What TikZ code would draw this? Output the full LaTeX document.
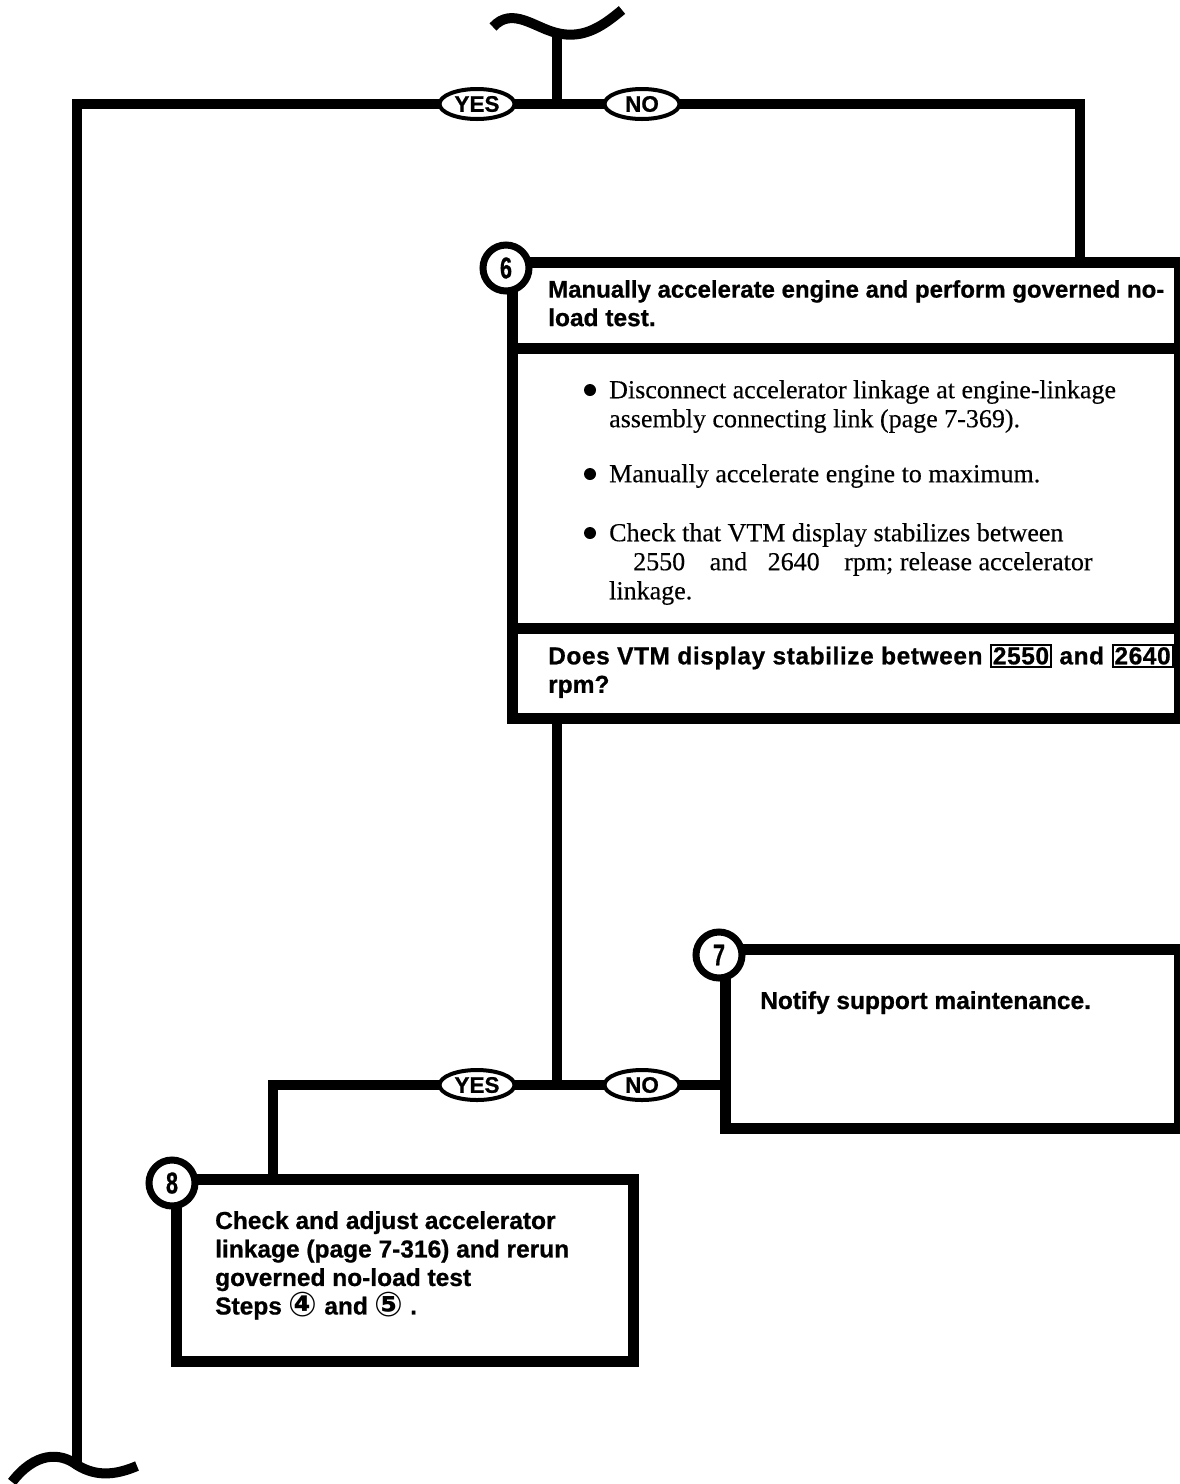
\documentclass[tikz,border=0pt]{standalone}
\usepackage{fontspec}
\setmainfont[FakeBold=0.3]{Liberation Serif}
\newfontfamily\headfont[BoldFeatures={FakeBold=0.8}]{Liberation Sans}
\newfontfamily\circfont{DejaVu Sans}
\usetikzlibrary{shapes.geometric}

\newcommand{\valbox}[1]{{\setlength{\fboxsep}{1pt}\setlength{\fboxrule}{2pt}\fbox{#1}}}
\newcommand{\stepref}[1]{\raisebox{-2pt}{\circfont\fontsize{34}{28.5}\selectfont #1}}

\tikzset{
  flow/.style={line width=10pt},
  stepbox/.style={draw, rectangle, line width=11pt, inner sep=0pt, outer sep=0pt},
  stepnum/.style={draw, circle, line width=7pt, fill=white, minimum size=46pt, inner sep=0pt,
    font=\headfont\bfseries\fontsize{30}{30}\selectfont},
  answer/.style={draw, ellipse, line width=4pt, fill=white, minimum width=75pt, minimum height=30pt,
    inner sep=0pt, outer sep=0pt, font=\headfont\bfseries\fontsize{22.5}{22.5}\selectfont},
  boldtext/.style={anchor=north west, inner sep=0pt, align=left,
    font=\headfont\bfseries\fontsize{24.5}{28.5}\selectfont},
  bodytext/.style={anchor=north west, inner sep=0pt, align=left,
    font=\fontsize{26}{29}\selectfont},
  dot/.style={circle, fill=black, minimum size=12pt, inner sep=0pt},
}

\begin{document}
\begin{tikzpicture}[x=1pt, y=-1pt]
  \useasboundingbox (0,0) rectangle (1179,1484);

  % Break at the top
  \coordinate (brkT) at (557,33);
  \draw[flow] (493,27) .. controls (512,6) and (535,28) .. (brkT) .. controls (585,40) and (605,24) .. (622,10);

  % First question: YES / NO
  \node[answer] (yes1) at (477,104) {YES};
  \node[answer] (no1) at (642,104) {NO};
  \coordinate (junT) at (557,104);
  \coordinate (lcorner) at (77,104);
  \coordinate (rcorner) at (1080,104);
  \coordinate (brkB) at (77,1465);
  \draw[flow] (brkT) -- (junT);
  \draw[flow] (yes1.east) -- (no1.west);
  \draw[flow] (yes1.west) -- (lcorner) -- (brkB);

  % Step 6
  \node[stepbox, minimum width=667pt, minimum height=86pt] (head6) at (845.5,305) {};
  \node[stepbox, minimum width=667pt, minimum height=280pt, anchor=north] (body6) at (head6.south) {};
  \node[stepbox, minimum width=667pt, minimum height=90pt, anchor=north] (ask6) at (body6.south) {};
  \draw[flow] (no1.east) -- (rcorner) -- (rcorner |- head6.north);
  \node[stepnum] (num6) at (506,268) {\scalebox{0.72}[1]{6}};

  \node[boldtext] (txt6) at (548,280) {\fontsize{24}{28.5}\selectfont Manually accelerate engine and perform governed no-\\load test.};
  \node[dot] (dot1) at (590,390) {};
  \node[bodytext] (item1) at (609,380) {Disconnect accelerator linkage at engine-linkage\\assembly connecting link (page 7-369).};
  \node[dot] (dot2) at (590,474) {};
  \node[bodytext] (item2) at (609,464) {Manually accelerate engine to maximum.};
  \node[dot] (dot3) at (590,533) {};
  \node[bodytext] (item3) at (609,523) {Check that VTM display stabilizes between\\
    \hspace*{24pt}2550\hspace{18pt} and\hspace{14pt} 2640\hspace{18pt} rpm; release accelerator\\linkage.};
  \node[boldtext] (txtask) at (548,644) {\addfontfeatures{LetterSpace=2.3}Does VTM display stabilize between \valbox{2550} and \valbox{2640}\\rpm?};

  % Second question: YES / NO
  \node[answer] (yes2) at (477,1085) {YES};
  \node[answer] (no2) at (642,1085) {NO};
  \coordinate (junB) at (557,1085);
  \coordinate (lcorner2) at (273,1085);
  \draw[flow] (ask6.south -| junB) -- (junB);
  \draw[flow] (yes2.east) -- (no2.west);

  % Step 7
  \node[stepbox, minimum width=454pt, minimum height=179pt] (box7) at (952,1038.5) {};
  \draw[flow] (no2.east) -- (box7.west |- no2);
  \node[stepnum] (num7) at (719,955) {\scalebox{0.72}[1]{7}};
  \node[boldtext] (txt7) at (760,991) {Notify support maintenance.};

  % Step 8
  \node[stepbox, minimum width=457pt, minimum height=182pt] (box8) at (405,1270) {};
  \draw[flow] (yes2.west) -- (lcorner2) -- (lcorner2 |- box8.north);
  \node[stepnum] (num8) at (172,1183) {\scalebox{0.72}[1]{8}};
  \node[boldtext] (txt8) at (215,1211) {Check and adjust accelerator\\linkage (page 7-316) and rerun\\governed no-load test\\
    Steps \stepref{④} and \stepref{⑤} .};

  % Break at the bottom
  \draw[flow] (12,1482) .. controls (35,1452) and (60,1452) .. (brkB) .. controls (98,1478) and (118,1474) .. (137,1466);
\end{tikzpicture}
\end{document}
